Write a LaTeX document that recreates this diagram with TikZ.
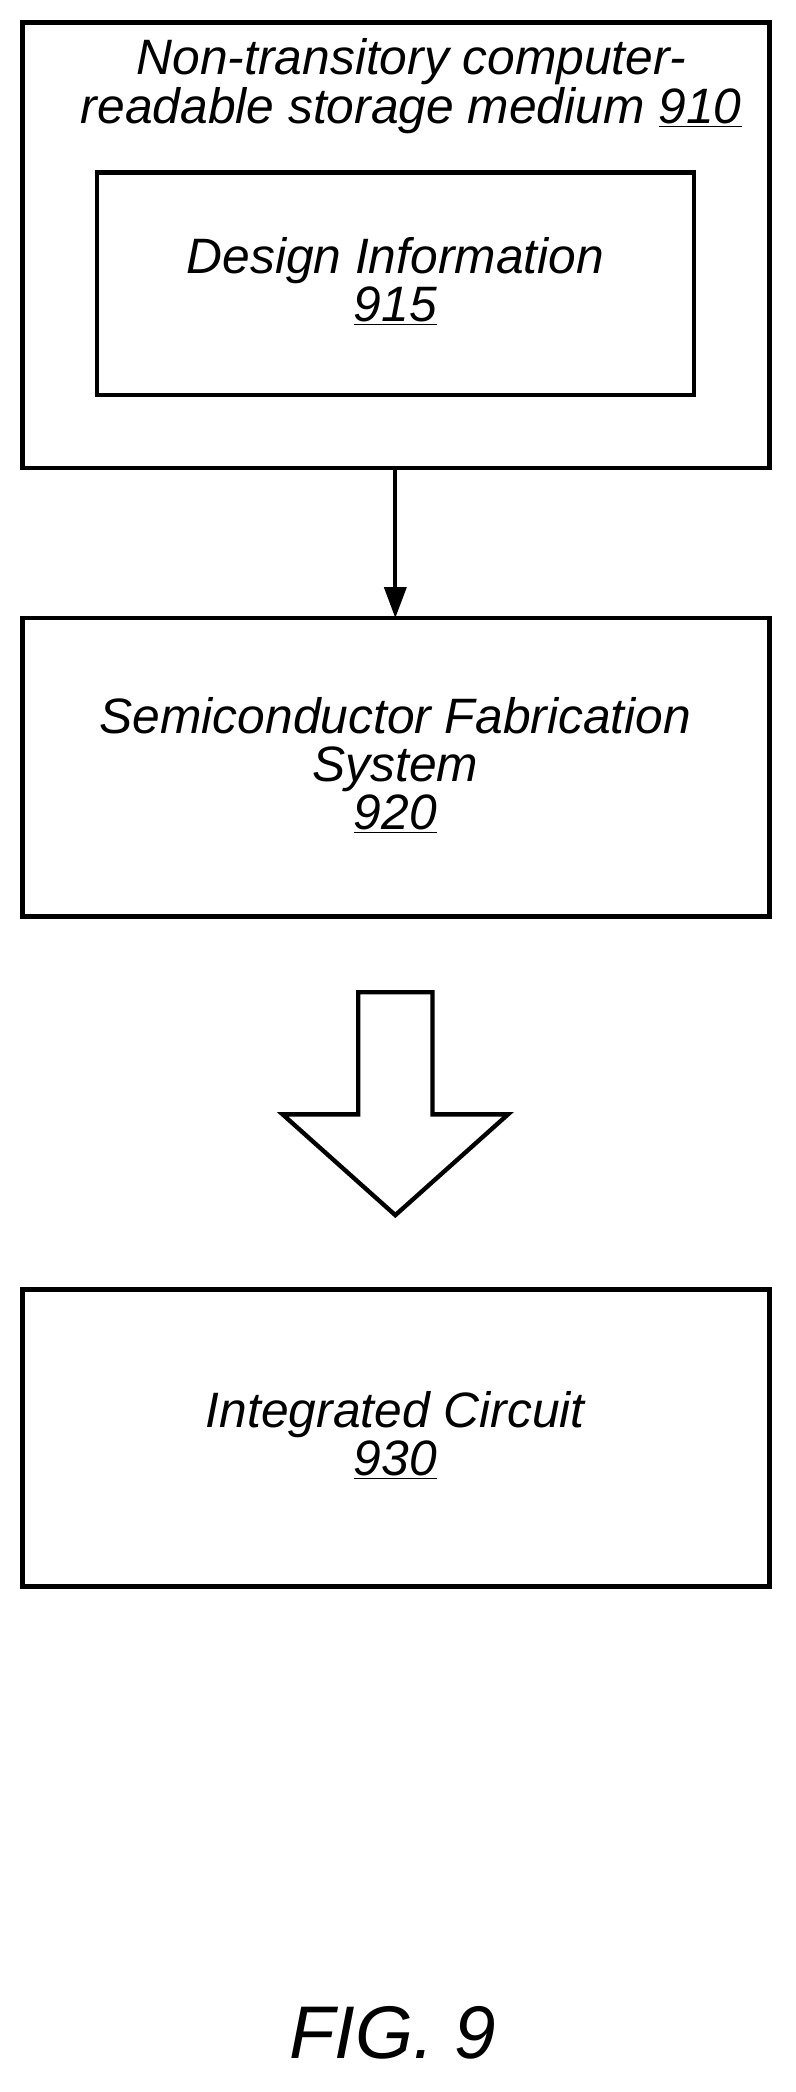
\documentclass[tikz,border=0pt]{standalone}
\usepackage{fontspec}
\setmainfont{Liberation Sans}
\usetikzlibrary{arrows.meta}
\begin{document}
\begin{tikzpicture}[x=0.03cm,y=-0.03cm,
  box/.style={draw,line width=2.8pt},
  lbl/.style={font=\itshape\fontsize{32}{31}\selectfont,align=center,inner sep=0pt}]
\useasboundingbox (0,0) rectangle (600,1577);
\draw[box] (17,17) rectangle (580,353);
\coordinate (o910b) at (298,353);
\draw[box] (73,130) rectangle (523,298);
\node[lbl] (t910) at (310,65) {Non-transitory computer-\\readable storage medium \underline{910}};
\node[lbl] (t915) at (298,212) {Design Information\\\underline{915}};
\draw[box] (17,466) rectangle (580,691);
\coordinate (b920t) at (298,466);
\node[lbl] (t920) at (298,577) {Semiconductor Fabrication\\System\\\underline{920}};
\draw[line width=2.8pt,-{Triangle[length=20pt,width=14pt]}] (o910b) -- (b920t);
\draw[box,line join=miter] (270,748) -- (326,748) -- (326,840) -- (383,840) -- (298,916) -- (213,840) -- (270,840) -- cycle;
\draw[box] (17,972) rectangle (580,1196);
\node[lbl] (t930) at (298,1082) {Integrated Circuit\\\underline{930}};
\node[font=\itshape\fontsize{48}{54}\selectfont,inner sep=0pt] (fig) at (296,1532) {FIG. 9};
\end{tikzpicture}
\end{document}
